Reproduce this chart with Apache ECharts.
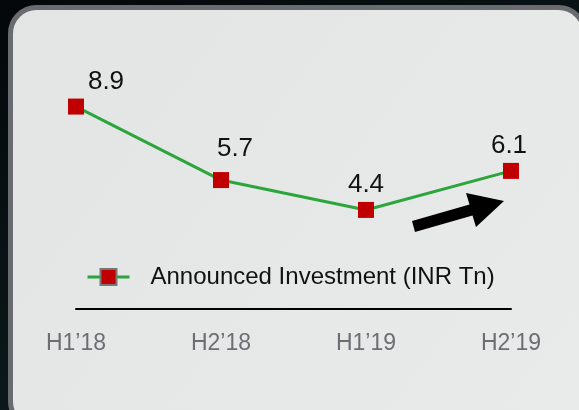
<!DOCTYPE html>
<html>
<head>
<meta charset="utf-8">
<script src="https://cdn.jsdelivr.net/npm/echarts@6/dist/echarts.min.js"></script>
<style>
html,body{margin:0;padding:0;background:#060b0e;}
#chart{width:579px;height:410px;}
</style>
</head>
<body>
<div id="chart"></div>
<script>
const categories = ['H1\u201918', 'H2\u201918', 'H1\u201919', 'H2\u201919'];
const investment = [8.9, 5.7, 4.4, 6.1];
const seriesName = 'Announced Investment (INR Tn)';

// label placement tweaks (style, not data)
const labelOffsets = [[30, 0], [14, -6], [0, 0], [-2, 0]];

const FONT = "'Liberation Sans', Arial, Helvetica, sans-serif";
const chart = echarts.init(document.getElementById('chart'), null, {renderer: 'canvas'});

const seriesData = investment.map((v, i) => ({
  value: v,
  label: {offset: labelOffsets[i]}
}));

chart.setOption({
  backgroundColor: {
    type: 'linear', x: 0, y: 0, x2: 0.3, y2: 1,
    colorStops: [{offset: 0, color: '#03070a'}, {offset: 1, color: '#0d1b1c'}]
  },
  animation: false,
  graphic: [
    {
      type: 'rect', z: -10,
      shape: {x: 10.5, y: 7.5, width: 574, height: 420, r: 26},
      style: {
        fill: {
          type: 'linear', x: 0, y: 0, x2: 1, y2: 1,
          colorStops: [{offset: 0, color: '#e2e5e4'}, {offset: 1, color: '#e9ebea'}]
        },
        stroke: '#6a6b70', lineWidth: 5
      }
    },
    {
      type: 'polygon', z: 10,
      shape: {points: [[412, 221], [469.5, 204.5], [466, 193], [504, 201], [476, 227], [472.5, 215.5], [415, 232]]},
      style: {fill: '#000000'}
    }
  ],
  legend: {
    data: [seriesName],
    left: 81,
    top: 260,
    itemWidth: 42,
    itemHeight: 20,
    itemStyle: {color: '#c00000', borderColor: '#777777', borderWidth: 2},
    lineStyle: {color: '#2ca63c', width: 3},
    textStyle: {fontFamily: FONT, fontSize: 24, color: '#111111', padding: [0, 0, 0, 16]}
  },
  grid: {left: 76, right: 68, top: 81.3, bottom: 99, containLabel: false},
  xAxis: {
    type: 'category',
    data: categories,
    boundaryGap: false,
    offset: -2,
    axisLine: {onZero: false, lineStyle: {color: '#000000', width: 2}},
    axisTick: {show: false},
    axisLabel: {fontFamily: FONT, fontSize: 23, color: '#6b6e73', margin: 23}
  },
  yAxis: {
    type: 'value', min: 0, max: 10,
    show: false,
    splitLine: {show: false}
  },
  series: [{
    name: seriesName,
    type: 'line',
    data: seriesData,
    symbol: 'rect',
    symbolSize: 16,
    itemStyle: {color: '#c00000'},
    lineStyle: {color: '#2ca63c', width: 3},
    label: {
      show: true, position: 'top', distance: 4,
      fontFamily: FONT, fontSize: 26, color: '#111111'
    }
  }]
});
</script>
</body>
</html>
